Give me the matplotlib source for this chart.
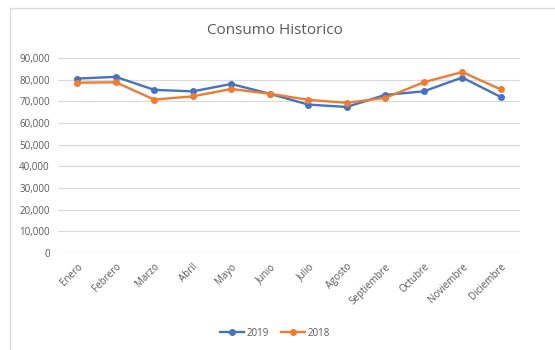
import matplotlib.pyplot as plt
from matplotlib.patches import Rectangle
from matplotlib.ticker import FuncFormatter

meses = ['Enero', 'Febrero', 'Marzo', 'Abril', 'Mayo', 'Junio', 'Julio',
         'Agosto', 'Septiembre', 'Octubre', 'Noviembre', 'Diciembre']
consumo_2019 = [80500, 81300, 75300, 74600, 78000, 73500, 68500, 67400, 73000, 74600, 81000, 72000]
consumo_2018 = [78600, 78800, 70800, 72300, 75700, 73500, 70700, 69300, 71600, 78800, 83500, 75500]

plt.rcParams['font.family'] = ['Open Sans', 'DejaVu Sans']

fig = plt.figure(figsize=(5.55, 3.5), dpi=100)
# marco gris del grafico (recortado a la derecha y abajo)
fig.patches.append(Rectangle((10 / 555, -0.1), 1.2, 1 - 8 / 350 + 0.1, transform=fig.transFigure,
                             facecolor='none', edgecolor='#d9d9d9', linewidth=1, zorder=-1))

ax = fig.add_axes([58 / 555, 1 - 253 / 350, 462 / 555, 195 / 350])
ax.patch.set_alpha(0)
x = range(len(meses))
ax.plot(x, consumo_2019, color='#4472C4', linewidth=1.7, marker='o', markersize=4, label='2019')
ax.plot(x, consumo_2018, color='#ED7D31', linewidth=1.7, marker='o', markersize=4, label='2018')

ax.set_xlim(-0.5, len(meses) - 0.5)
ax.set_ylim(0, 90000)
ax.set_yticks(range(0, 90001, 10000))
ax.yaxis.set_major_formatter(FuncFormatter(lambda v, p: f'{int(v):,}'))
ax.set_xticks(list(x))
ax.set_xticklabels(meses, rotation=45, ha='right', rotation_mode='anchor')
ax.tick_params(axis='both', length=0, labelsize=7, colors='#595959', pad=6)
ax.grid(axis='y', color='#d9d9d9', linewidth=0.8)
ax.set_axisbelow(True)
for s in ax.spines.values():
    s.set_visible(False)

fig.text(275 / 555, 1 - 30 / 350, 'Consumo Historico', ha='center', va='center',
         fontsize=11, color='#595959')
fig.legend(loc='center', bbox_to_anchor=(275 / 555, 1 - 333 / 350), ncol=2, frameon=False,
           fontsize=7, labelcolor='#595959', handlelength=2.5, columnspacing=1.2, handletextpad=0.3)

fig.savefig('out.png', dpi=100)
